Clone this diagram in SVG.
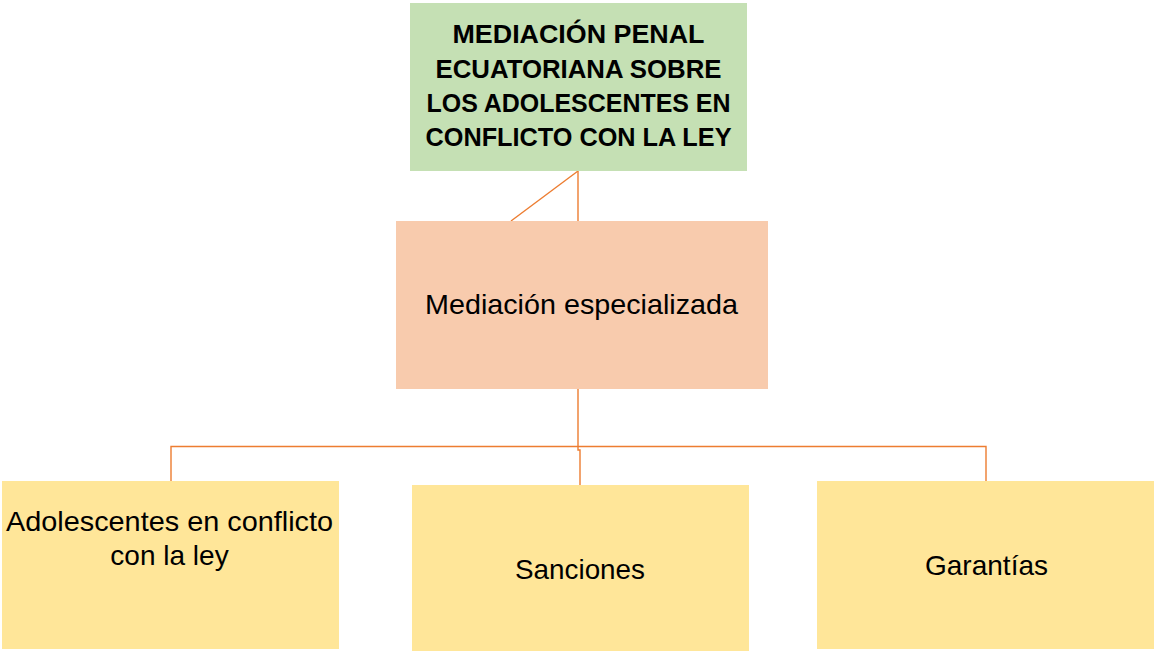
<svg xmlns="http://www.w3.org/2000/svg" width="1155" height="652" viewBox="0 0 1155 652">
<style>
.t{font-family:"Liberation Sans",Arial,sans-serif;fill:#000;text-anchor:middle}
.b{font-weight:bold;font-size:25px}
.r{font-size:28px}
.c{fill:none;stroke:#ED7D31;stroke-width:1.4}
</style>
<rect width="1155" height="652" fill="#fff"/>
<g id="connectors">
<line class="c" x1="578" y1="171" x2="578" y2="221"/>
<line class="c" x1="578" y1="171" x2="511" y2="221"/>
<polyline class="c" points="578,389 578,450 580,450 580,485"/>
<polyline class="c" points="171,481 171,446.5 986,446.5 986,481"/>
</g>
<g id="title">
<rect x="410" y="3" width="337" height="168" fill="#C5E0B4"/>
<text class="t b" x="578.5" y="43" textLength="252" lengthAdjust="spacingAndGlyphs">MEDIACIÓN PENAL</text>
<text class="t b" x="578.5" y="78" textLength="286" lengthAdjust="spacingAndGlyphs">ECUATORIANA SOBRE</text>
<text class="t b" x="578.5" y="112" textLength="304" lengthAdjust="spacingAndGlyphs">LOS ADOLESCENTES EN</text>
<text class="t b" x="578.5" y="146" textLength="306" lengthAdjust="spacingAndGlyphs">CONFLICTO CON LA LEY</text>
</g>
<g id="mediacion">
<rect x="396" y="221" width="372" height="168" fill="#F8CBAD"/>
<text class="t r" x="581.5" y="314" textLength="313" lengthAdjust="spacingAndGlyphs">Mediación especializada</text>
</g>
<g id="adolescentes">
<rect x="2" y="481" width="337" height="168" fill="#FFE699"/>
<text class="t r" x="169.5" y="531" textLength="327" lengthAdjust="spacingAndGlyphs">Adolescentes en conflicto</text>
<text class="t r" x="169.5" y="565">con la ley</text>
</g>
<g id="sanciones">
<rect x="412" y="485" width="337" height="166" fill="#FFE699"/>
<text class="t r" x="580" y="579" textLength="130" lengthAdjust="spacingAndGlyphs">Sanciones</text>
</g>
<g id="garantias">
<rect x="817" y="481" width="337" height="168" fill="#FFE699"/>
<text class="t r" x="986.5" y="575" textLength="123" lengthAdjust="spacingAndGlyphs">Garantías</text>
</g>
</svg>
